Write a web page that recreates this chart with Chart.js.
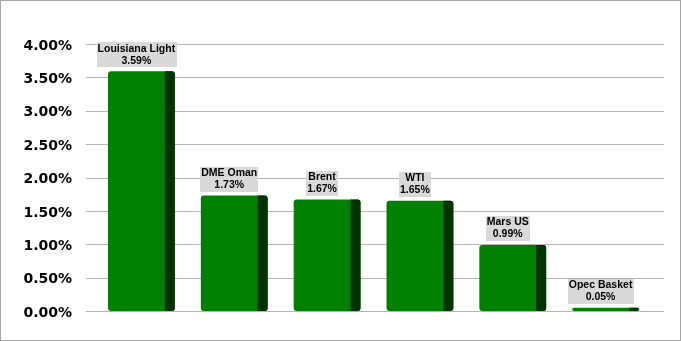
<!DOCTYPE html>
<html>
<head>
<meta charset="utf-8">
<script src="https://cdn.jsdelivr.net/npm/chart.js@4.4.0/dist/chart.umd.min.js"></script>
<style>
    html, body { margin: 0; padding: 0; background: #fff; }
    #wrap { width: 679px; height: 339px; border: 1px solid #a6a6a6; position: relative; }
</style>
</head>
<body>
<div id="wrap"><canvas id="chart" width="679" height="339"></canvas></div>
<script>
// Chart data
const crudes = ['Louisiana Light', 'DME Oman', 'Brent', 'WTI', 'Mars US', 'Opec Basket'];
const changes = [3.59, 1.73, 1.67, 1.65, 0.99, 0.05];
const yTicks = [0, 0.5, 1, 1.5, 2, 2.5, 3, 3.5, 4];

const FRONT = '#008000';
const SIDE = '#013301';

// Gridlines drawn a bit wider than the plot (Excel 3D floor look)
const gridPlugin = {
    id: 'grid3d',
    beforeDatasetsDraw(chart) {
        const ctx = chart.ctx;
        const y = chart.scales.y;
        const area = chart.chartArea;
        ctx.save();
        ctx.strokeStyle = '#b4b4b4';
        ctx.lineWidth = 1;
        y.ticks.forEach(t => {
            const py = Math.round(y.getPixelForValue(t.value)) + 0.5;
            ctx.beginPath();
            ctx.moveTo(area.left - 9, py);
            ctx.lineTo(area.right + 12, py);
            ctx.stroke();
        });
        ctx.restore();
    }
};

// Dark side of each bar + labels in gray boxes
const sidePlugin = {
    id: 'sideAndLabels',
    afterDatasetsDraw(chart) {
        const ctx = chart.ctx;
        const meta = chart.getDatasetMeta(0);
        ctx.save();
        meta.data.forEach((bar, i) => {
            const left = bar.x - bar.width / 2;
            const sideW = bar.width * 0.15;
            const h = bar.base - bar.y;
            ctx.fillStyle = SIDE;
            ctx.beginPath();
            ctx.roundRect(left + bar.width - sideW, bar.y, sideW, h, [0, 3, 3, 0]);
            ctx.fill();

            // label
            const cx = left + (bar.width - sideW) / 2;
            ctx.font = 'bold 10.5px "Liberation Sans", Arial, sans-serif';
            const line1 = crudes[i];
            const line2 = changes[i].toFixed(2) + '%';
            const w = Math.max(ctx.measureText(line1).width, ctx.measureText(line2).width) + 2;
            const boxH = 25;
            const bottom = bar.y - 4;
            ctx.fillStyle = '#d9d9d9';
            ctx.fillRect(Math.round(cx - w / 2), Math.round(bottom - boxH), Math.round(w), boxH);
            ctx.fillStyle = '#000';
            ctx.textAlign = 'center';
            ctx.textBaseline = 'middle';
            ctx.fillText(line1, cx, bottom - boxH + 6.5);
            ctx.fillText(line2, cx, bottom - boxH + 18.5);
        });
        ctx.restore();
    }
};

new Chart(document.getElementById('chart'), {
    type: 'bar',
    data: {
        labels: crudes,
        datasets: [{
            data: changes,
            backgroundColor: FRONT,
            borderRadius: 3,
            borderSkipped: false,
            barPercentage: 0.72,
            categoryPercentage: 1
        }]
    },
    options: {
        responsive: false,
        animation: false,
        layout: { padding: { left: 0, right: 28, top: 43, bottom: 29 } },
        plugins: { legend: { display: false }, tooltip: { enabled: false } },
        scales: {
            x: { display: false },
            y: {
                min: 0,
                max: 4,
                afterBuildTicks(scale) {
                    scale.ticks = yTicks.map(v => ({ value: v }));
                },
                afterFit(scale) { scale.width = 94; },
                grid: { display: false },
                border: { display: false },
                ticks: {
                    padding: 15,
                    labelOffset: 2,
                    color: '#000',
                    font: { family: '"DejaVu Sans", Verdana, sans-serif', size: 14, weight: 'bold' },
                    callback: v => v.toFixed(2) + '%'
                }
            }
        }
    },
    plugins: [gridPlugin, sidePlugin]
});
</script>
</body>
</html>
